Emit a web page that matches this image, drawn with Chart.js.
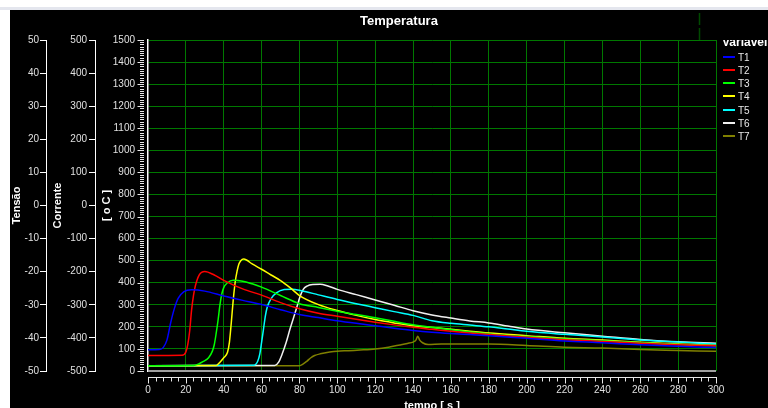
<!DOCTYPE html>
<html><head><meta charset="utf-8">
<script src="https://cdn.jsdelivr.net/npm/chart.js@4.4.1/dist/chart.umd.min.js"></script>
<style>
html,body{margin:0;padding:0;background:#fff;width:768px;height:408px;overflow:hidden;}
#band{position:absolute;left:0;top:7px;width:768px;height:3px;background:#e4e6ee;}
#panel{position:absolute;left:10px;top:10px;width:758px;height:398px;background:#000;overflow:hidden;}
#c{position:absolute;left:0;top:0;}
#title{position:absolute;left:299px;top:12px;width:200px;text-align:center;font:bold 13px 'Liberation Sans',Arial,sans-serif;color:#fff;line-height:18px;}
#legend{position:absolute;left:722px;top:40px;width:46px;height:120px;overflow:hidden;color:#fff;}
#legend .lt{position:absolute;left:0;top:-4px;font:bold 12px 'Liberation Sans',Arial,sans-serif;white-space:nowrap;line-height:13px;}
#legend .it{position:absolute;left:0;height:13px;width:46px;}
#legend .sw{position:absolute;left:1px;top:5px;width:12px;height:2px;}
#legend .lb{position:absolute;left:16px;top:0;font:10px 'Liberation Sans Narrow','Liberation Sans',Arial,sans-serif;line-height:13px;color:#e8e8e8;}
</style></head>
<body>
<div id="band"></div>
<div id="panel"><canvas id="c" width="758" height="398"></canvas></div>
<div id="title">Temperatura</div>
<div id="legend"></div>
<script>
// ---- tick values ----
const timeTicks = [0,20,40,60,80,100,120,140,160,180,200,220,240,260,280,300];
const tempTicks = [0,100,200,300,400,500,600,700,800,900,1000,1100,1200,1300,1400,1500];
const tensaoTicks = [-50,-40,-30,-20,-10,0,10,20,30,40,50];
const correnteTicks = [-500,-400,-300,-200,-100,0,100,200,300,400,500];

// ---- series ----
const seriesNames = ['T1','T2','T3','T4','T5','T6','T7'];
const seriesColors = ['#0000ff','#ff0000','#00ff00','#ffff00','#00ffff','#f0f0f0','#808000'];

const T1_time = [0,6,8,10,12,14,16,19,23,30,40,50,60,70,80,90,100,110,120,130,140,150,160,170,180,200,220,240,260,280,300];
const T1_temp = [96,97,106,140,220,285,330,360,368,362,340,320,301,278,256,242,228,216,205,194,184,176,170,165,160,148,136,128,119,112,106];

const T2_time = [0,18,20,21,22,23,24,25,27,30,35,40,50,60,70,80,90,100,110,120,130,140,150,160,170,180,200,220,240,260,280,300];
const T2_temp = [70,71,86,120,180,275,340,385,435,451,435,411,372,344,310,282,262,248,234,221,209,198,189,180,172,165,153,142,134,126,119,114];

const T3_time = [0,24,27,29,32,34,35,36,37,38,39,40,42,45,50,55,60,70,80,90,100,110,120,130,140,150,160,170,180,200,220,240,260,280,300];
const T3_temp = [24,25,33,42,60,90,119,170,230,300,350,378,400,411,407,395,380,342,305,288,271,256,241,225,210,198,187,177,168,156,145,137,128,120,114];

const T4_time = [0,36,38,40,42,43,44,45,46,47,48,49,50.5,52,55,60,65,70,75,80,90,100,110,120,130,140,150,160,170,180,200,220,240,260,280,300];
const T4_temp = [24,25,40,60,85,130,220,320,400,450,485,500,507,503,485,461,435,410,378,342,301,274,252,233,218,205,197,189,180,172,160,148,140,130,122,116];

const T5_time = [0,56,58,59,60,61,62,63,65,68,72,76,81,90,100,110,120,130,140,150,160,170,180,190,200,220,240,260,280,300];
const T5_temp = [24,26,45,75,130,190,250,290,328,355,369,371,364,345,324,305,287,269,252,228,216,208,200,190,180,166,154,141,131,122];

const T6_time = [0,67,69,71,73,75,77,79,80,82,84,87,91,95,100,110,120,130,140,150,160,170,180,190,200,220,240,260,280,300];
const T6_temp = [24,25,40,80,130,190,245,300,330,370,385,392,393,385,370,346,322,298,273,254,240,227,218,204,190,173,158,143,132,126];

const T7_time = [0,80,82,84,86,88,91,96,100,106,112,120,127,133,137,140,141.5,142.5,143.5,145,148,155,165,180,200,220,240,260,280,300];
const T7_temp = [24,24,32,45,60,70,78,86,90,92,95,100,108,118,125,131,140,157,140,128,120,122,122,122,116,108,104,97,93,89];

const seriesTimes = [T1_time,T2_time,T3_time,T4_time,T5_time,T6_time,T7_time];
const seriesTemps = [T1_temp,T2_temp,T3_temp,T4_temp,T5_temp,T6_temp,T7_temp];

const markerTime = 291;

// ---- styles ----
const tickFont = {family:"'Liberation Sans Narrow','Liberation Sans',Arial,sans-serif", size:10};
const axTitleFont = {family:"'Liberation Sans',Arial,sans-serif", size:11, weight:'bold'};
const tickColor = '#e0e0e0';
const gridGreen = '#007800';
const plainLabel = v => String(v);

function fixedTicks(arr){ return s => { s.ticks = arr.map(v => ({value:v})); }; }

const datasets = seriesNames.map((n,i) => ({
  label:n,
  data: seriesTimes[i].map((t,k) => ({x:t, y:seriesTemps[i][k]})),
  borderColor: seriesColors[i],
  backgroundColor: seriesColors[i],
  borderWidth:1.5,
  pointRadius:0,
  cubicInterpolationMode:'monotone',
  fill:false,
  xAxisID:'x',
  yAxisID:'yTemp',
  order:i
}));

const axisDecor = {
  id:'axisDecor',
  afterDraw(chart){
    const {ctx, chartArea, scales} = chart;
    const xs = scales.x, yT = scales.yTemp;
    ctx.save();
    ctx.strokeStyle = '#e8e8e8';
    ctx.lineWidth = 1;
    ctx.beginPath();
    for (let v = 0; v <= 1500; v += 10) {
      const py = Math.round(yT.getPixelForValue(v)) + 0.5;
      const len = (v % 100 === 0) ? 6.5 : 4;
      ctx.moveTo(chartArea.left - 4 - len, py);
      ctx.lineTo(chartArea.left - 4, py);
    }
    const ay = Math.round(chartArea.bottom) + 6.5;
    ctx.moveTo(chartArea.left, ay);
    ctx.lineTo(chartArea.right + 1, ay);
    for (let t = 0; t <= 300; t += 4) {
      const px = Math.round(xs.getPixelForValue(t)) + 0.5;
      const len = (t % 20 === 0) ? 6 : 4;
      ctx.moveTo(px, ay);
      ctx.lineTo(px, ay + len);
    }
    ctx.stroke();
    // cursor marker above plot
    ctx.strokeStyle = '#004a00';
    ctx.lineWidth = 1.5;
    ctx.setLineDash([12,3]);
    const mx = Math.round(xs.getPixelForValue(markerTime)) + 0.5;
    ctx.beginPath();
    ctx.moveTo(mx, 3);
    ctx.lineTo(mx, chartArea.top);
    ctx.stroke();
    ctx.restore();
  }
};

new Chart(document.getElementById('c'), {
  type:'line',
  data:{datasets},
  plugins:[axisDecor],
  options:{
    responsive:false,
    animation:false,
    devicePixelRatio:1,
    layout:{padding:{top:30,right:52,left:0,bottom:0}},
    plugins:{legend:{display:false}, title:{display:false}, tooltip:{enabled:false}},
    scales:{
      x:{
        type:'linear', position:'bottom', min:0, max:300,
        afterBuildTicks: fixedTicks(timeTicks),
        afterFit: s => { s.height = 37; },
        grid:{ color: c => (c.tick && c.tick.value === 0) ? 'rgba(0,0,0,0)' : gridGreen, lineWidth:1, drawTicks:false },
        border:{display:false},
        ticks:{color:tickColor, font:tickFont, padding:13, maxRotation:0, autoSkip:false, callback:plainLabel},
        title:{display:true, text:'tempo [ s ]', color:'#ffffff', font:axTitleFont, padding:{top:0,bottom:-5}}
      },
      yTemp:{
        type:'linear', position:'left', min:0, max:1500, weight:0,
        afterBuildTicks: fixedTicks(tempTicks),
        afterFit: s => { s.width = 53; },
        grid:{
          color: c => (c.tick && c.tick.value === 0) ? '#a0a0a0' : gridGreen,
          lineWidth: c => (c.tick && c.tick.value === 0) ? 2 : 1,
          drawTicks:false
        },
        border:{display:true, color:'#ffffff', width:1.5},
        ticks:{color:tickColor, font:tickFont, padding:13, autoSkip:false, callback:plainLabel},
        title:{display:true, text:'[ o C ]', color:'#ffffff', font:axTitleFont, padding:{top:5.4,bottom:0}}
      },
      yCorrente:{
        type:'linear', position:'left', min:-500, max:500, weight:1,
        afterBuildTicks: fixedTicks(correnteTicks),
        afterFit: s => { s.width = 49; },
        grid:{drawOnChartArea:false, color:'#ffffff', tickLength:6, drawTicks:true},
        border:{display:true, color:'#ffffff', width:1},
        ticks:{color:tickColor, font:tickFont, padding:2, autoSkip:false, callback:plainLabel},
        title:{display:true, text:'Corrente', color:'#ffffff', font:axTitleFont, padding:{top:5.4,bottom:0}}
      },
      yTensao:{
        type:'linear', position:'left', min:-50, max:50, weight:2,
        afterBuildTicks: fixedTicks(tensaoTicks),
        afterFit: s => { s.width = 36; },
        grid:{drawOnChartArea:false, color:'#ffffff', tickLength:6, drawTicks:true},
        border:{display:true, color:'#ffffff', width:1},
        ticks:{color:tickColor, font:tickFont, padding:1, autoSkip:false, callback:plainLabel},
        title:{display:true, text:'Tensão', color:'#ffffff', font:axTitleFont, padding:{top:0.4,bottom:0}}
      }
    }
  }
});

// ---- legend (HTML) ----
const lg = document.getElementById('legend');
const lt = document.createElement('div');
lt.className = 'lt'; lt.textContent = 'Variaveis';
lg.appendChild(lt);
seriesNames.forEach((n,i) => {
  const it = document.createElement('div');
  it.className = 'it';
  it.style.top = (11 + i*13.15) + 'px';
  const sw = document.createElement('div');
  sw.className = 'sw'; sw.style.background = seriesColors[i];
  const lb = document.createElement('div');
  lb.className = 'lb'; lb.textContent = n;
  it.appendChild(sw); it.appendChild(lb);
  lg.appendChild(it);
});
</script>
</body></html>
